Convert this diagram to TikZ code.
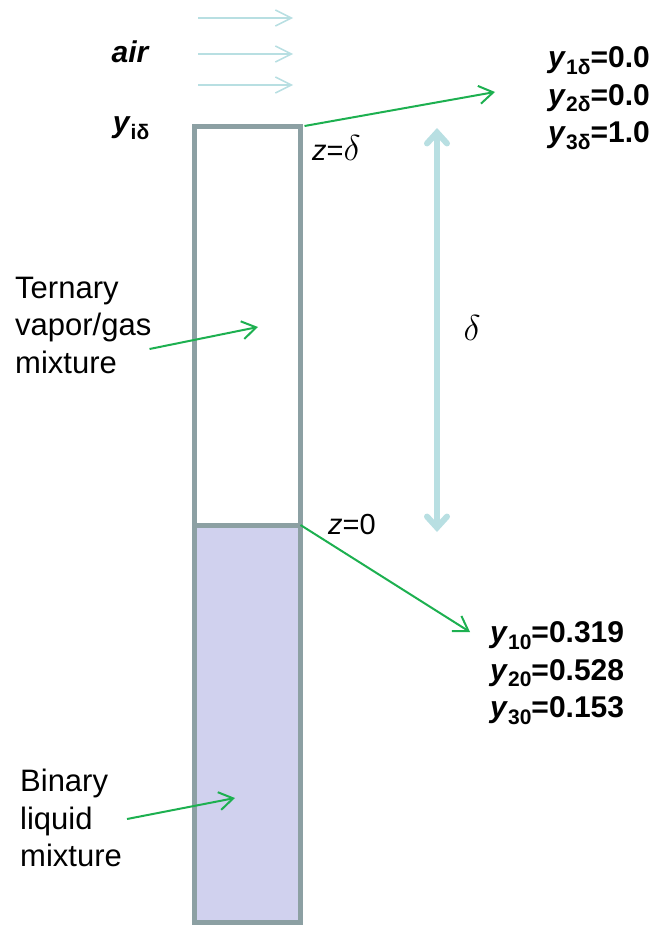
\RequirePackage{fix-cm}
\documentclass[tikz,border=0pt]{standalone}
\usepackage{fontspec}
\setmainfont{Liberation Sans}
\usetikzlibrary{arrows.meta, positioning}

\definecolor{tubegray}{HTML}{8CA0A3}
\definecolor{liquidfill}{HTML}{D0D1EE}
\definecolor{flowcyan}{HTML}{B8DFE2}
\definecolor{pointgreen}{HTML}{1DB050}

\newcommand{\subtxt}[1]{\raisebox{-0.22em}{\fontsize{21}{21}\selectfont #1}}
\newcommand{\yval}[2]{\textit{y}\subtxt{#1}=#2}
\newcommand{\bigdelta}{{\fontsize{36}{36}\selectfont\(\delta\)}}

\begin{document}
\begin{tikzpicture}[x=1pt, y=-1pt,
  every node/.style={font=\fontsize{31}{37.5}\selectfont, inner sep=0pt},
  label/.style={anchor=west, align=left},
  vals/.style={anchor=west, align=left, font=\fontsize{30}{37.5}\selectfont\bfseries},
  tube/.style={draw=tubegray, line width=5pt},
  air/.style={-{Straight Barb[length=16pt, width=16pt]}, flowcyan, line width=1.5pt},
  pointer/.style={-{Straight Barb[length=14pt, width=18pt]}, pointgreen, line width=2pt},
  span/.style={{Straight Barb[length=11pt, width=20pt, line cap=round]}-{Straight Barb[length=11pt, width=20pt, line cap=round]},
               flowcyan, line width=6pt},
]
\useasboundingbox (0,0) rectangle (655,926);

\def\xL{194.5} \def\xR{300.5} \def\yT{126} \def\yS{525} \def\yB{922}

% Tube with liquid at the bottom
\fill[liquidfill] (\xL,\yS) rectangle (\xR,\yB);
\draw[tube] (\xL,\yT) rectangle (\xR,\yB);
\draw[tube] (\xL,\yS) -- (\xR,\yS);
\coordinate (topR) at (\xR+4,\yT);
\coordinate (midR) at (\xR,\yS);
\coordinate (gasin) at (258,327);
\coordinate (liqin) at (235,798);

% Air flow
\foreach \y [count=\i] in {18,54,85} {
  \coordinate (a\i) at (198,\y);
  \coordinate (b\i) at (293,\y);
  \draw[air] (a\i) -- (b\i);
}
\node[font=\fontsize{30}{37}\selectfont\bfseries\itshape] (airtxt) at (130,52) {air};
\node[font=\fontsize{30}{37}\selectfont\bfseries] (yid) at (131,128) {\textit{y}\subtxt{iδ}};

% Boundary labels
\node[label, font=\fontsize{29}{37}\selectfont] (ztop) at (312,148) {\textit{z}=\bigdelta};
\node[label, font=\fontsize{29}{37}\selectfont] (zbot) at (328,525) {\textit{z}=0};

% Compositions
\node[vals] (ytop) at (548,98) {\yval{1δ}{0.0}\\ \yval{2δ}{0.0}\\ \yval{3δ}{1.0}};
\node[vals] (ybot) at (490,673) {\yval{10}{0.319}\\ \yval{20}{0.528}\\ \yval{30}{0.153}};
\coordinate (toptip) at (495,92);
\coordinate (bottip) at (470,632);
\draw[pointer] (topR) -- (toptip);
\draw[pointer] (midR) -- (bottip);

% Diffusion length
\coordinate (dtop) at (437,128);
\coordinate (dbot) at (437,532);
\draw[span] (dtop) -- (dbot);
\node (dlen) at (472,328) {\bigdelta};

% Phase labels
\node[label] (gas) at (15,325) {Ternary\\vapor/gas\\mixture};
\node[label] (liq) at (20,818) {Binary\\liquid\\mixture};
\draw[pointer] ([xshift=-2pt, yshift=-24pt]gas.east) -- (gasin);
\draw[pointer] ([xshift=5pt, yshift=-1pt]liq.east) -- (liqin);

\end{tikzpicture}
\end{document}
